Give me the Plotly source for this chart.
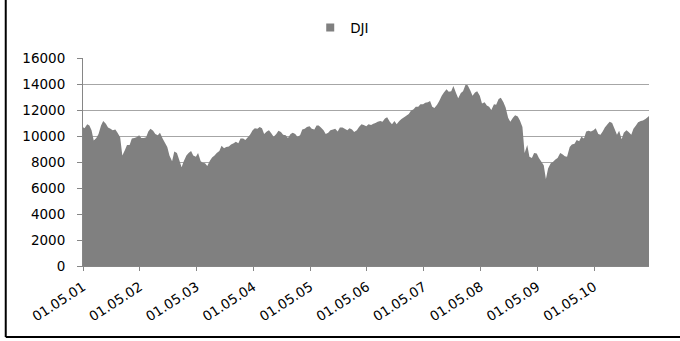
import pandas as pd
import plotly.graph_objects as go

# Semi-monthly observation dates (1st and 15th of each month)
dates = pd.date_range("2001-01-01", "2011-01-01", freq="SMS")

v2001 = [10700, 10600, 10900, 10800, 10450, 9650, 9850, 10150, 10800, 11150, 10950, 10650,
         10550, 10450, 10500, 10250, 9900, 8500, 8900, 9300, 9300, 9800, 9850, 9900]
v2002 = [10050, 9850, 9850, 9900, 10350, 10550, 10400, 10150, 10050, 10250, 9800, 9500,
         9150, 8500, 8050, 8800, 8700, 8200, 7600, 8050, 8500, 8700, 8850, 8500]
v2003 = [8400, 8700, 8050, 7950, 7900, 7700, 8100, 8350, 8500, 8700, 8850, 9250,
         9050, 9150, 9200, 9350, 9450, 9550, 9450, 9800, 9800, 9700, 9900, 10100]
v2004 = [10450, 10600, 10550, 10700, 10600, 10150, 10350, 10450, 10200, 9950, 10150, 10400,
         10300, 10100, 10050, 9850, 10150, 10250, 10150, 9950, 10050, 10500, 10550, 10700]
v2005 = [10750, 10550, 10500, 10800, 10800, 10650, 10450, 10150, 10250, 10450, 10500, 10550,
         10350, 10650, 10650, 10550, 10450, 10600, 10500, 10300, 10450, 10700, 10900, 10850]
v2006 = [10750, 10900, 10850, 10950, 11000, 11100, 11150, 11100, 11350, 11450, 11100, 10900,
         11150, 10900, 11150, 11300, 11450, 11550, 11700, 11950, 12050, 12250, 12250, 12450]
v2007 = [12450, 12550, 12600, 12700, 12250, 12150, 12400, 12700, 13100, 13350, 13600, 13400,
         13450, 13850, 13300, 12900, 13300, 13450, 13950, 13900, 13500, 13100, 13350, 13450]
v2008 = [13100, 12500, 12600, 12350, 12250, 12000, 12450, 12400, 12850, 12950, 12600, 12200,
         11400, 11100, 11400, 11600, 11500, 11200, 10700, 8700, 9300, 8400, 8300, 8700]
v2009 = [8650, 8300, 8000, 7750, 6700, 7500, 7900, 8000, 8200, 8300, 8700, 8600,
         8450, 8400, 9150, 9350, 9400, 9700, 9600, 9950, 9800, 10350, 10400, 10350]
v2010 = [10450, 10600, 10150, 10100, 10350, 10650, 10900, 11100, 11000, 10600, 10100, 10400,
         9750, 10250, 10450, 10300, 10100, 10550, 10800, 11050, 11150, 11200, 11300, 11450]
v2011 = [11600]

dji = v2001 + v2002 + v2003 + v2004 + v2005 + v2006 + v2007 + v2008 + v2009 + v2010 + v2011

tick_dates = ["2001-01-05", "2002-01-05", "2003-01-05", "2004-01-05", "2005-01-05",
              "2006-01-05", "2007-01-05", "2008-01-05", "2009-01-05", "2010-01-05"]
tick_labels = ["01.05.01", "01.05.02", "01.05.03", "01.05.04", "01.05.05",
               "01.05.06", "01.05.07", "01.05.08", "01.05.09", "01.05.10"]
series_name = "DJI"

FILL = "#808080"
FONT = "DejaVu Sans"

fig = go.Figure()
fig.add_trace(go.Scatter(
    x=dates, y=dji, mode="none", fill="tozeroy", fillcolor=FILL,
    showlegend=False, hoverinfo="x+y"))
fig.add_trace(go.Scatter(
    x=[None], y=[None], mode="markers", name=series_name,
    marker=dict(symbol="square", size=8, color=FILL)))

fig.update_layout(
    width=680, height=341,
    margin=dict(l=83, r=31, t=54, b=75),
    paper_bgcolor="white", plot_bgcolor="white",
    font=dict(family=FONT, size=13.5, color="#000000"),
    showlegend=True,
    legend=dict(orientation="h", x=0.458, y=1.146, xanchor="center", yanchor="middle",
                font=dict(family=FONT, size=13.5, color="#000000"),
                itemwidth=30, bgcolor="rgba(0,0,0,0)"),
    xaxis=dict(
        type="date", range=["2001-01-05", "2010-12-24"],
        tickmode="array", tickvals=tick_dates, ticktext=tick_labels,
        tickangle=-33, ticks="outside", ticklen=4, tickcolor="#868686",
        ticklabelstandoff=3,
        showline=True, linecolor="#868686", linewidth=1,
        showgrid=False, zeroline=False,
        tickfont=dict(family=FONT, size=13.5, color="#000000")),
    yaxis=dict(
        range=[0, 16000], dtick=2000, tick0=0, tickformat="d",
        ticks="outside", ticklen=5, tickcolor="#868686",
        ticklabelstandoff=9,
        showline=True, linecolor="#868686", linewidth=1,
        showgrid=True, gridcolor="#a6a6a6", gridwidth=1,
        zeroline=False,
        tickfont=dict(family=FONT, size=13.5, color="#000000")),
    shapes=[
        dict(type="line", xref="paper", yref="paper", x0=-0.1365, x1=-0.1365,
             y0=-0.341, y1=1.4, line=dict(color="#000000", width=2)),
        dict(type="line", xref="paper", yref="paper", x0=-0.1365, x1=1.2,
             y0=-0.341, y1=-0.341, line=dict(color="#000000", width=2)),
    ],
)

fig.write_html("out.html")
